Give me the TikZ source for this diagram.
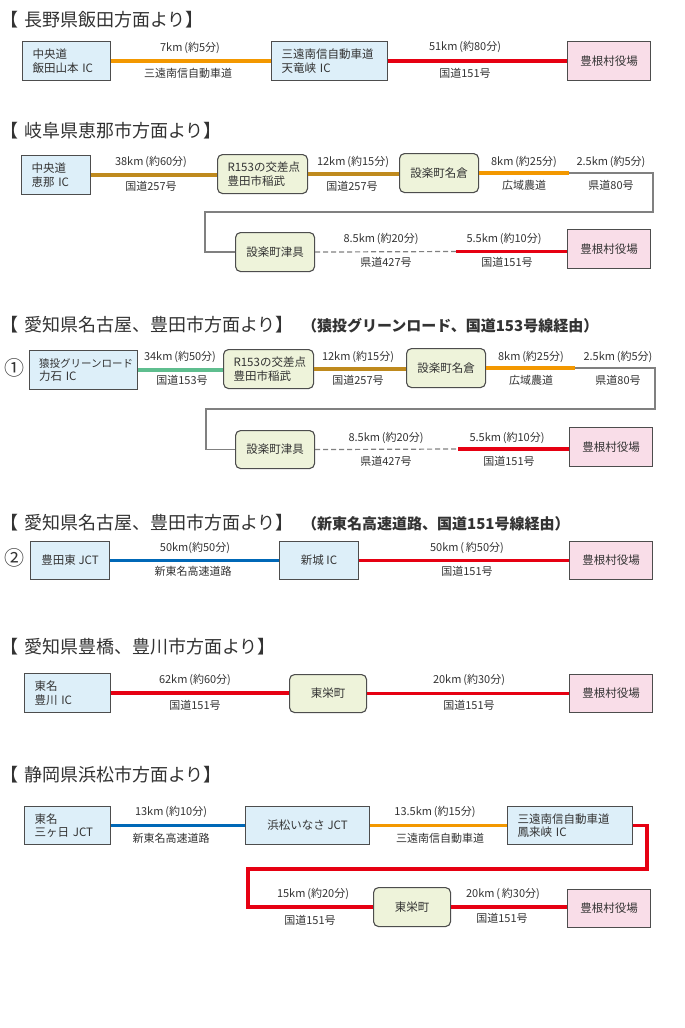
\documentclass[tikz,border=0pt]{standalone}
\usepackage{fontspec}
\setmainfont{Noto Sans CJK JP}
\definecolor{txt}{HTML}{333333}
\definecolor{bord}{HTML}{4D4D4D}
\definecolor{bluefill}{HTML}{DDEFF9}
\definecolor{greenfill}{HTML}{EEF3DA}
\definecolor{pinkfill}{HTML}{F9DDE8}
\definecolor{corange}{HTML}{F39800}
\definecolor{cred}{HTML}{E60012}
\definecolor{cgold}{HTML}{BF8A1E}
\definecolor{cgreen}{HTML}{5FBE8F}
\definecolor{cblue}{HTML}{0068B7}
\definecolor{cgray}{HTML}{808080}
\tikzset{
  box/.style={draw=bord, line width=1.1pt, text=txt, font=\fontsize{11.5}{13.5}\selectfont, anchor=north west, inner ysep=0pt, align=center},
  bluebox/.style={box, fill=bluefill},
  greenbox/.style={box, fill=greenfill, rounded corners=5pt},
  pinkbox/.style={box, fill=pinkfill},
  lefttext/.style={align=left, inner xsep=10pt},
  ttl/.style={anchor=west, text=txt, font=\fontsize{18}{20}\selectfont, inner sep=0pt},
  subttl/.style={anchor=west, text=txt, font=\fontsize{15}{17}\selectfont\bfseries, inner sep=0pt},
  lbl/.style={text=txt, font=\fontsize{11}{12}\selectfont, inner sep=0pt},
  num/.style={text=txt, font=\fontsize{20}{22}\selectfont, inner sep=0pt},
  road/.style={line width=3.8pt},
  orangeline/.style={road, draw=corange},
  redline/.style={road, draw=cred},
  goldline/.style={road, draw=cgold},
  greenline/.style={road, draw=cgreen},
  blueline/.style={road, draw=cblue},
  grayline/.style={line width=1.4pt, draw=cgray},
  dashline/.style={line width=1.2pt, draw=cgray, dash pattern=on 5pt off 3pt},
}
\begin{document}
\begin{tikzpicture}[x=1pt,y=-1pt]
\useasboundingbox[fill=white] (0,0) rectangle (685,1028);

% ---------- Section 1 ----------
\node[ttl] (t1) at (0,20) {【\hspace{6pt}長野県飯田方面より】};
\node[bluebox, lefttext, text width=68pt, minimum height=39pt] (a1) at (22,41) {中央道\\飯田山本 IC};
\node[bluebox, lefttext, text width=96pt, minimum height=39pt] (a2) at (271,41) {三遠南信自動車道\\天竜峡 IC};
\node[pinkbox, minimum width=83pt, minimum height=39pt] (a3) at (567,41) {豊根村役場};
\draw[orangeline] (a1.east) -- (a1.east -| a2.west);
\draw[redline] (a2.east) -- (a2.east -| a3.west);
\node[lbl] (l11) at (190,48) {7km\,(約5分)};
\node[lbl] (l12) at (188,73) {三遠南信自動車道};
\node[lbl] (l13) at (465,47) {51km\,(約80分)};
\node[lbl] (l14) at (465,73) {国道151号};

% ---------- Section 2 ----------
\node[ttl] (t2) at (0,131) {【\hspace{6pt}岐阜県恵那市方面より】};
\node[bluebox, lefttext, text width=49pt, minimum height=39pt] (b1) at (21,155) {中央道\\恵那 IC};
\node[greenbox, lefttext, text width=70pt, minimum height=39pt] (b2) at (217,154) {R153の交差点\\豊田市稲武};
\node[greenbox, minimum width=79pt, minimum height=39pt] (b3) at (399,153) {設楽町名倉};
\node[greenbox, minimum width=79pt, minimum height=39pt] (b4) at (235,232) {設楽町津具};
\node[pinkbox, minimum width=83pt, minimum height=39pt] (b5) at (567,229) {豊根村役場};
\coordinate (j21) at (569,173);
\coordinate (k21) at (653,212);
\coordinate (k22) at (205,212);
\coordinate (j22) at (456,251.5);
\draw[goldline] (b1.east) -- (b1.east -| b2.west);
\draw[goldline] (b2.east) -- (b2.east -| b3.west);
\draw[orangeline] (b3.east) -- (b3.east -| j21);
\draw[grayline] (b3.east -| j21) -| (k21) -- (k22) |- (b4.west);
\draw[dashline] (b4.east) -- (j22);
\draw[redline] (j22) -- (j22 -| b5.west);
\node[lbl] (l21) at (151,162) {38km\,(約60分)};
\node[lbl] (l22) at (151,186) {国道257号};
\node[lbl] (l23) at (353,162) {12km\,(約15分)};
\node[lbl] (l24) at (352,186) {国道257号};
\node[lbl] (l25) at (524,162) {8km\,(約25分)};
\node[lbl] (l26) at (524,185) {広域農道};
\node[lbl] (l27) at (611,162) {2.5km\,(約5分)};
\node[lbl] (l28) at (611,185) {県道80号};
\node[lbl] (l29) at (381,239) {8.5km\,(約20分)};
\node[lbl] (l2a) at (386,262) {県道427号};
\node[lbl] (l2b) at (504,239) {5.5km\,(約10分)};
\node[lbl] (l2c) at (507,262) {国道151号};

% ---------- Section 3 ----------
\node[ttl] (t3) at (0,325) {【\hspace{6pt}愛知県名古屋、豊田市方面より】};
\node[subttl] (s3) at (302,326) {（猿投グリーンロード、国道153号線経由）};
\node[num] (n1) at (15,368) {①};
\node[bluebox, lefttext, text width=89pt, inner xsep=9.5pt, minimum height=39pt] (c1) at (29,350) {{\fontsize{10.5}{13.5}\selectfont 猿投グリーンロード}\\力石 IC};
\node[greenbox, lefttext, text width=70pt, minimum height=39pt] (c2) at (223,349) {R153の交差点\\豊田市稲武};
\node[greenbox, minimum width=79pt, minimum height=39pt] (c3) at (406,348) {設楽町名倉};
\node[greenbox, minimum width=79pt, minimum height=38pt] (c4) at (235,430) {設楽町津具};
\node[pinkbox, minimum width=83pt, minimum height=39pt] (c5) at (569,427) {豊根村役場};
\coordinate (j31) at (575,368);
\coordinate (k31) at (655,409);
\coordinate (k32) at (206,409);
\coordinate (j32) at (458,449);
\draw[greenline] (c1.east) -- (c1.east -| c2.west);
\draw[goldline] (c2.east) -- (c2.east -| c3.west);
\draw[orangeline] (c3.east) -- (c3.east -| j31);
\draw[grayline] (c3.east -| j31) -| (k31) -- (k32) |- (c4.west);
\draw[dashline] (c4.east) -- (j32);
\draw[redline] (j32) -- (j32 -| c5.west);
\node[lbl] (l31) at (180,357) {34km\,(約50分)};
\node[lbl] (l32) at (182,380) {国道153号};
\node[lbl] (l33) at (358,357) {12km\,(約15分)};
\node[lbl] (l34) at (358,380) {国道257号};
\node[lbl] (l35) at (531,357) {8km\,(約25分)};
\node[lbl] (l36) at (531,380) {広域農道};
\node[lbl] (l37) at (618,357) {2.5km\,(約5分)};
\node[lbl] (l38) at (618,380) {県道80号};
\node[lbl] (l39) at (386,438) {8.5km\,(約20分)};
\node[lbl] (l3a) at (386,461) {県道427号};
\node[lbl] (l3b) at (507,438) {5.5km\,(約10分)};
\node[lbl] (l3c) at (509,461) {国道151号};

% ---------- Section 4 ----------
\node[ttl] (t4) at (0,523) {【\hspace{6pt}愛知県名古屋、豊田市方面より】};
\node[subttl] (s4) at (302,524) {（新東名高速道路、国道151号線経由）};
\node[num] (n2) at (15,558) {②};
\node[bluebox, minimum width=79pt, minimum height=38pt] (d1) at (30,541) {豊田東 JCT};
\node[bluebox, minimum width=79pt, minimum height=38pt] (d2) at (279,541) {新城 IC};
\node[pinkbox, minimum width=83pt, minimum height=38pt] (d3) at (569,541) {豊根村役場};
\draw[blueline] (d1.east) -- (d1.east -| d2.west);
\draw[redline] (d2.east) -- (d2.east -| d3.west);
\node[lbl] (l41) at (195,548) {50km(約50分)};
\node[lbl] (l42) at (193,571) {新東名高速道路};
\node[lbl] (l43) at (467,548) {50km\,(\,約50分)};
\node[lbl] (l44) at (467,571) {国道151号};

% ---------- Section 5 ----------
\node[ttl] (t5) at (0,647) {【\hspace{6pt}愛知県豊橋、豊川市方面より】};
\node[bluebox, lefttext, text width=66pt, minimum height=39pt] (e1) at (24,673) {東名\\豊川 IC};
\node[greenbox, minimum width=77pt, minimum height=38pt] (e2) at (289,674) {東栄町};
\node[pinkbox, minimum width=83pt, minimum height=38pt] (e3) at (569,674) {豊根村役場};
\draw[redline] (e1.east) -- (e1.east -| e2.west);
\draw[redline] (e2.east) -- (e2.east -| e3.west);
\node[lbl] (l51) at (195,680) {62km\,(約60分)};
\node[lbl] (l52) at (195,705) {国道151号};
\node[lbl] (l53) at (469,680) {20km\,(約30分)};
\node[lbl] (l54) at (469,705) {国道151号};

% ---------- Section 6 ----------
\node[ttl] (t6) at (0,775) {【\hspace{6pt}静岡県浜松市方面より】};
\node[bluebox, lefttext, text width=66pt, minimum height=38pt] (f1) at (24,806) {東名\\三ヶ日 JCT};
\node[bluebox, minimum width=124pt, minimum height=38pt] (f2) at (245,806) {浜松いなさ JCT};
\node[bluebox, lefttext, text width=105pt, minimum height=38pt] (f3) at (507,806) {三遠南信自動車道\\鳳来峡 IC};
\node[greenbox, minimum width=77pt, minimum height=39pt] (f4) at (373,887) {東栄町};
\node[pinkbox, minimum width=83pt, minimum height=38pt] (f5) at (567,889) {豊根村役場};
\coordinate (k61) at (647,869);
\coordinate (k62) at (248,869);
\draw[blueline] (f1.east) -- (f1.east -| f2.west);
\draw[orangeline] (f2.east) -- (f2.east -| f3.west);
\draw[redline] (f3.east) -| (k61) -- (k62) |- (f4.west);
\draw[redline] (f4.east) -- (f4.east -| f5.west);
\node[lbl] (l61) at (171,812) {13km\,(約10分)};
\node[lbl] (l62) at (171,838) {新東名高速道路};
\node[lbl] (l63) at (435,812) {13.5km\,(約15分)};
\node[lbl] (l64) at (440,838) {三遠南信自動車道};
\node[lbl] (l65) at (313,894) {15km\,(約20分)};
\node[lbl] (l66) at (310,920) {国道151号};
\node[lbl] (l67) at (503,894) {20km\,(\,約30分)};
\node[lbl] (l68) at (502,918) {国道151号};
\end{tikzpicture}
\end{document}
